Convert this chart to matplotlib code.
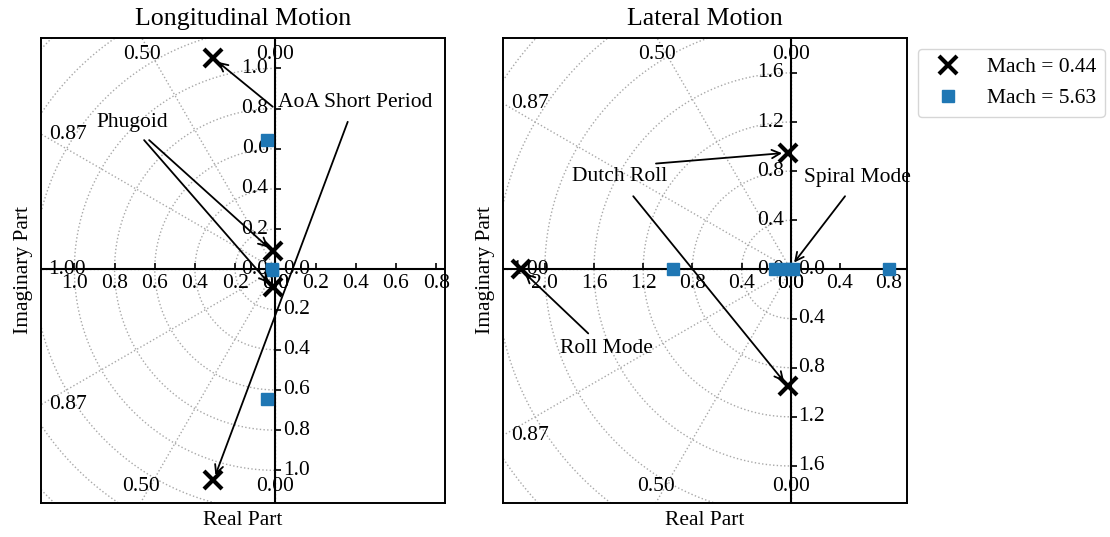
import numpy as np
import matplotlib
matplotlib.use("Agg")
import matplotlib.pyplot as plt
from matplotlib.markers import TICKUP, TICKRIGHT

plt.rcParams['font.family'] = ['Liberation Serif', 'DejaVu Serif']
FS = 15.5
TITLE_FS = 18.6
GRID_COLOR = '#a8a8a8'
SQ_COLOR = '#1f77b4'

# ---------------- data ----------------
series_labels = ['Mach = 0.44', 'Mach = 5.63']

# Longitudinal poles (real, imaginary)
lon_m044_re = [-0.308, -0.308, -0.014, -0.014]
lon_m044_im = [1.05, -1.05, 0.09, -0.09]
lon_m563_re = [-0.043, -0.043, -0.015, -0.015]
lon_m563_im = [0.645, -0.645, 0.003, -0.003]

# Lateral poles (real, imaginary)
lat_m044_re = [-2.195, -0.025, -0.025]
lat_m044_im = [0.0, 0.95, -0.95]
lat_m563_re = [-0.955, -0.13, -0.04, 0.02, 0.80]
lat_m563_im = [0.0, 0.0, 0.0, 0.0, 0.0]

# Damping-ratio rays (degrees in the s-plane) and natural-frequency rings
zeta_angles = [90, 120, 150, 180, 210, 240, 270]
lon_wn = [0.2, 0.4, 0.6, 0.8, 1.0, 1.2, 1.4, 1.6]
lat_wn = [0.4, 0.8, 1.2, 1.6, 2.0, 2.4, 2.8]

# Radius tick values along each floating axis
lon_ticks_neg_x = [0.0, 0.2, 0.4, 0.6, 0.8, 1.0]
lon_ticks_pos_x = [0.0, 0.2, 0.4, 0.6, 0.8]
lon_ticks_y = [0.0, 0.2, 0.4, 0.6, 0.8, 1.0]
lat_ticks_neg_x = [0.0, 0.4, 0.8, 1.2, 1.6, 2.0]
lat_ticks_pos_x = [0.0, 0.4, 0.8]
lat_ticks_y = [0.0, 0.4, 0.8, 1.2, 1.6]

# Mode annotations: (text, text position, [(arrow start, arrow target), ...])
lon_notes = [
    ('AoA Short Period', (0.012, 0.83), 'left',
     [((-0.013, 0.809), (-0.308, 1.05)), ((0.360, 0.734), (-0.308, -1.05))]),
    ('Phugoid', (-0.714, 0.733), 'center',
     [((-0.628, 0.643), (-0.014, 0.09)), ((-0.653, 0.643), (-0.014, -0.09))]),
]
lat_notes = [
    ('Dutch Roll', (-1.395, 0.753), 'center',
     [((-1.096, 0.862), (-0.025, 0.95)), ((-1.281, 0.596), (-0.025, -0.95))]),
    ('Spiral Mode', (0.108, 0.751), 'left',
     [((0.442, 0.596), (0.0, 0.02))]),
    ('Roll Mode', (-1.503, -0.643), 'center',
     [((-1.647, -0.521), (-2.195, 0.0))]),
]


def s_plane_grid(ax, wn, ticks_neg_x, ticks_pos_x, ticks_y):
    x0, x1 = ax.get_xlim()
    y0, y1 = ax.get_ylim()
    th = np.linspace(np.pi / 2, 3 * np.pi / 2, 400)
    for r in wn:
        ax.plot(r * np.cos(th), r * np.sin(th), ls=':', lw=1.0,
                color=GRID_COLOR, zorder=1)
    rmax = max(np.hypot(x0, y0), np.hypot(x0, y1)) * 1.1
    for deg in zeta_angles:
        a = np.deg2rad(deg)
        c, s = np.cos(a), np.sin(a)
        ax.plot([0, rmax * c], [0, rmax * s], ls=':', lw=1.0,
                color=GRID_COLOR, zorder=1)
        # where the ray leaves the frame
        hits = []
        if c < -1e-9:
            hits.append((x0 / c, 'left'))
        if s > 1e-9:
            hits.append((y1 / s, 'top'))
        if s < -1e-9:
            hits.append((y0 / s, 'bottom'))
        t, edge = min(hits)
        zeta = np.cos(np.pi - a)
        txt = '%.2f' % abs(zeta)
        px, py = t * c, t * s
        if edge == 'left':
            ax.annotate(txt, (x0, py), xytext=(5.5, 0), textcoords='offset points',
                        ha='left', va='center', fontsize=FS, zorder=3)
        elif edge == 'top':
            ax.annotate(txt, (px, y1), xytext=(0, -5), textcoords='offset points',
                        ha='center', va='top', fontsize=FS, zorder=3)
        else:
            ax.annotate(txt, (px, y0), xytext=(0, 5), textcoords='offset points',
                        ha='center', va='bottom', fontsize=FS, zorder=3)

    # floating axes through the origin
    ax.axhline(0, color='k', lw=1.5, zorder=2)
    ax.axvline(0, color='k', lw=1.5, zorder=2)

    xs = [-v for v in ticks_neg_x] + list(ticks_pos_x)
    ax.plot(xs, np.zeros(len(xs)), ls='none', marker=TICKUP, ms=4.5,
            mew=1.2, color='k', zorder=2)
    ys = list(ticks_y) + [-v for v in ticks_y]
    ax.plot(np.zeros(len(ys)), ys, ls='none', marker=TICKRIGHT, ms=4.5,
            mew=1.2, color='k', zorder=2)

    for v in ticks_neg_x:
        ax.annotate('%.1f' % v, (-v, 0), xytext=(0, -3.5), textcoords='offset points',
                    ha='center', va='top', fontsize=FS, zorder=3)
    for v in ticks_pos_x:
        ax.annotate('%.1f' % v, (v, 0), xytext=(0, -3.5), textcoords='offset points',
                    ha='center', va='top', fontsize=FS, zorder=3)
    for v in ticks_y:
        ax.annotate('%.1f' % v, (0, v), xytext=(-5, 0), textcoords='offset points',
                    ha='right', va='center', fontsize=FS, zorder=3)
        ax.annotate('%.1f' % v, (0, -v), xytext=(5.5, 0), textcoords='offset points',
                    ha='left', va='center', fontsize=FS, zorder=3)


def draw_poles(ax, re1, im1, re2, im2):
    h1, = ax.plot(re1, im1, ls='none', marker='x', ms=13, mew=3, color='k',
                  label=series_labels[0], zorder=4)
    h2, = ax.plot(re2, im2, ls='none', marker='s', ms=9, color=SQ_COLOR,
                  label=series_labels[1], zorder=4)
    return h1, h2


def draw_notes(ax, notes):
    for text, pos, ha, arrows in notes:
        ax.text(pos[0], pos[1], text, ha=ha, va='center', fontsize=FS, zorder=5)
        for start, target in arrows:
            ax.annotate('', xy=target, xytext=start,
                        arrowprops=dict(arrowstyle='->', color='k', lw=1.3,
                                        shrinkA=0, shrinkB=4, mutation_scale=15),
                        zorder=5)


def setup(ax, xlim, ylim, title):
    ax.set_xlim(*xlim)
    ax.set_ylim(*ylim)
    ax.set_xticks([])
    ax.set_yticks([])
    for sp in ax.spines.values():
        sp.set_linewidth(1.4)
        sp.set_zorder(6)
    ax.set_title(title, fontsize=TITLE_FS, pad=9)
    ax.set_xlabel('Real Part', fontsize=FS, labelpad=6)
    ax.set_ylabel('Imaginary Part', fontsize=FS, labelpad=6)


fig = plt.figure(figsize=(11.1, 5.37), dpi=100)
W, H = 1110.0, 537.0
ax_lon = fig.add_axes([41 / W, 1 - 502.7 / H, 404 / W, 464.7 / H])
ax_lat = fig.add_axes([503.3 / W, 1 - 502.7 / H, 403.7 / W, 464.7 / H])

setup(ax_lon, (-1.166, 0.844), (-1.161, 1.151), 'Longitudinal Motion')
setup(ax_lat, (-2.338, 0.946), (-1.899, 1.884), 'Lateral Motion')

s_plane_grid(ax_lon, lon_wn, lon_ticks_neg_x, lon_ticks_pos_x, lon_ticks_y)
s_plane_grid(ax_lat, lat_wn, lat_ticks_neg_x, lat_ticks_pos_x, lat_ticks_y)

draw_poles(ax_lon, lon_m044_re, lon_m044_im, lon_m563_re, lon_m563_im)
h1, h2 = draw_poles(ax_lat, lat_m044_re, lat_m044_im, lat_m563_re, lat_m563_im)

draw_notes(ax_lon, lon_notes)
draw_notes(ax_lat, lat_notes)

# restore limits after the unclipped grid rays
ax_lon.set_xlim(-1.166, 0.844); ax_lon.set_ylim(-1.161, 1.151)
ax_lat.set_xlim(-2.338, 0.946); ax_lat.set_ylim(-1.899, 1.884)

ax_lat.legend(handles=[h1, h2], loc='upper left', bbox_to_anchor=(1.0, 1.0),
              fontsize=FS)

fig.savefig('out.png', dpi=100)
